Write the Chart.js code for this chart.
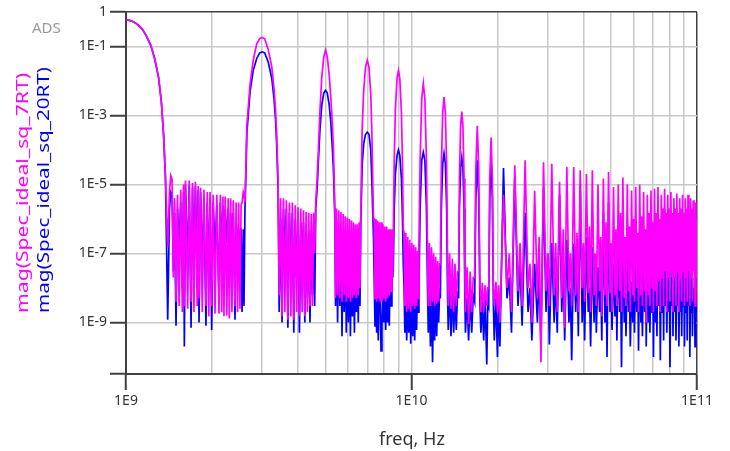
<!DOCTYPE html>
<html>
<head>
<meta charset="utf-8">
<script src="https://cdn.jsdelivr.net/npm/chart.js@4.4.0/dist/chart.umd.min.js"></script>
<style>
  html, body { margin: 0; background: #fff; }
  #wrap { width: 730px; height: 451px; }
</style>
</head>
<body>
<div id="wrap"><canvas id="myChart"></canvas></div>
<script>
// frequency in GHz
const freqGHz = [
  1.00, 1.03, 1.06, 1.10, 1.14, 1.18, 1.22, 1.26, 1.30, 1.33, 1.355, 1.375,
  1.40, 1.42, 1.435, 1.45, 1.465, 1.48, 1.497, 1.515, 1.535, 1.555, 1.575, 1.59, 1.601, 1.615, 1.645, 1.665, 1.69, 1.71, 1.73, 1.75, 1.775, 1.79, 1.802, 1.825, 1.85, 1.875, 1.906, 1.925, 1.95, 1.97, 1.996, 2.02, 2.05, 2.08, 2.117, 2.14, 2.165, 2.185, 2.204, 2.225, 2.255, 2.28, 2.301, 2.325, 2.35, 2.375, 2.409, 2.43, 2.46, 2.48, 2.507, 2.53, 2.55, 2.575, 2.59, 2.61,
  2.63, 2.65, 2.72, 2.79, 2.87, 2.94, 3.00, 3.06, 3.15, 3.24, 3.30, 3.34, 3.37, 3.41,
  3.44, 3.48, 3.52, 3.56, 3.60, 3.645, 3.69, 3.735, 3.78, 3.825, 3.87, 3.915, 3.96, 4.005, 4.05, 4.095, 4.14, 4.185, 4.23, 4.275, 4.32, 4.365, 4.41, 4.455, 4.50, 4.54, 4.58,
  4.62, 4.68, 4.72, 4.78, 4.85, 4.93, 5.00, 5.07, 5.15, 5.22, 5.28, 5.33, 5.39,
  5.42, 5.46, 5.51, 5.56, 5.61, 5.66, 5.71, 5.76, 5.81, 5.86, 5.91, 5.96, 6.01, 6.06, 6.11, 6.16, 6.21, 6.26, 6.31, 6.36, 6.41, 6.46, 6.51, 6.56, 6.60,
  6.64, 6.68, 6.72, 6.80, 6.90, 7.00, 7.10, 7.20, 7.26, 7.31, 7.36,
  7.40, 7.45, 7.50, 7.55, 7.60, 7.65, 7.70, 7.76, 7.82, 7.88, 7.94, 8.00, 8.06, 8.12, 8.18, 8.24, 8.30, 8.36, 8.42, 8.48, 8.54, 8.60,
  8.64, 8.70, 8.78, 8.90, 9.00, 9.10, 9.22, 9.30, 9.36,
  9.42, 9.48, 9.55, 9.62, 9.70, 9.78, 9.86, 9.94, 10.02, 10.10, 10.18, 10.26, 10.34, 10.42, 10.50, 10.58,
  10.62, 10.72, 10.86, 11.0, 11.14, 11.28, 11.38,
  11.45, 11.55, 11.65, 11.75, 11.85, 11.95, 12.05, 12.15, 12.25, 12.35, 12.45, 12.55,
  12.62, 12.72, 12.86, 13.0, 13.14, 13.28, 13.38,
  13.45, 13.6, 13.75, 13.9, 14.05, 14.2, 14.35, 14.5,
  14.62, 14.72, 14.86, 15.0, 15.14, 15.28, 15.38,
  15.45, 15.65, 15.85, 16.05, 16.25, 16.45,
  16.64, 16.80, 17.0, 17.2, 17.36,
  17.5, 17.7, 17.9, 18.1, 18.35, 18.5,
  18.64, 18.80, 19.0, 19.2, 19.36,
  19.5, 19.75, 20.0, 20.2,
  20.4, 21, 21.6, 22,  22.4, 23, 23.6, 24,  24.4, 25, 25.6, 26,  26.4, 27, 27.6, 28,  28.4, 29, 29.6, 30,
  30.4, 31, 31.6, 32,  32.4, 33, 33.6, 34,  34.4, 35, 35.6, 36,  36.4, 37, 37.6, 38,  38.4, 39, 39.6, 40,
  40.4, 41, 41.6, 42,  42.4, 43, 43.6, 44,  44.4, 45, 45.6, 46,  46.4, 47, 47.6, 48,  48.4, 49, 49.6, 50,
  50.4, 51, 51.6, 52,  52.4, 53, 53.6, 54,  54.4, 55, 55.6, 56,  56.4, 57, 57.6, 58,  58.4, 59, 59.6, 60,
  60.4, 61, 61.6, 62,  62.4, 63, 63.6, 64,  64.4, 65, 65.6, 66,  66.4, 67, 67.6, 68,  68.4, 69, 69.6, 70,
  70.4, 71, 71.6, 72,  72.4, 73, 73.6, 74,  74.4, 75, 75.6, 76,  76.4, 77, 77.6, 78,  78.4, 79, 79.6, 80,
  80.4, 81, 81.6, 82,  82.4, 83, 83.6, 84,  84.4, 85, 85.6, 86,  86.4, 87, 87.6, 88,  88.4, 89, 89.6, 90,
  90.4, 91, 91.6, 92,  92.4, 93, 93.6, 94,  94.4, 95, 95.6, 96,  96.4, 97, 97.6, 98,  98.4, 99, 99.6, 100
];

// mag(Spec_ideal_sq_7RT)
const mag7RT = [
  0.59, 0.57, 0.52, 0.43, 0.32, 0.2, 0.11, 0.045, 0.013, 2.5e-3, 2.5e-4, 1.5e-5,
  1.5e-7, 6e-6, 1.8e-5, 1.4e-5, 2e-8, 4e-6, 4e-9, 5e-6, 3e-9, 7e-6, 2e-9, 1e-5, 3e-9, 1.3e-5, 2.5e-9, 1.3e-5, 4e-9, 1.1e-5, 2e-9, 1.2e-5, 3e-9, 9e-6, 5e-9, 8e-6, 2e-9, 7e-6, 3e-9, 6e-6, 1.5e-9, 6e-6, 3e-9, 5e-6, 1.8e-9, 5e-6, 1.8e-9, 5e-6, 2e-9, 4.5e-6, 1.5e-9, 4.5e-6, 1.6e-9, 4e-6, 1.3e-9, 4e-6, 2e-9, 3.5e-6, 3e-9, 3e-6, 2e-9, 3e-6, 2.5e-9, 2.5e-6, 3e-6, 6e-6, 5e-6, 3e-6,
  3e-5, 5e-4, 8e-3, 0.04, 0.12, 0.17, 0.18, 0.17, 0.08, 0.026, 6e-3, 1.5e-3, 3e-4, 1.3e-5,
  6e-9, 4e-6, 1.5e-9, 4e-6, 2e-9, 3.5e-6, 1.2e-9, 3e-6, 1.5e-9, 3e-6, 1.2e-9, 2.5e-6, 2e-9, 2.2e-6, 1.5e-9, 2e-6, 2e-9, 1.8e-6, 1.5e-9, 1.6e-6, 2e-9, 1.5e-6, 3e-9, 1.4e-6, 3e-9, 1.5e-6, 1e-7,
  3e-6, 2e-5, 1e-4, 1.4e-3, 0.013, 0.05, 0.08, 0.05, 0.015, 3e-3, 6e-4, 1e-4, 2e-6,
  5e-9, 2e-6, 6e-9, 1.8e-6, 5e-9, 1.6e-6, 4e-9, 1.4e-6, 6e-9, 1.2e-6, 4e-9, 1.1e-6, 5e-9, 1e-6, 4e-9, 9e-7, 5e-9, 8e-7, 6e-9, 7e-7, 5e-9, 7e-7, 6e-9, 8e-7, 1e-8,
  1e-6, 3e-5, 4.6e-4, 5e-3, 0.025, 0.04, 0.025, 4e-3, 4e-4, 2e-5, 1e-6,
  1e-6, 5e-9, 1e-6, 4e-9, 9e-7, 5e-9, 8e-7, 4e-9, 8e-7, 4e-9, 7e-7, 5e-9, 6e-7, 4e-9, 6e-7, 5e-9, 5e-7, 6e-9, 5e-7, 8e-9, 5e-7, 2e-8,
  5e-7, 5e-5, 1.5e-3, 0.012, 0.02, 0.012, 1.2e-3, 4e-5, 5e-7,
  4e-7, 3e-9, 4e-7, 2e-9, 3e-7, 2.5e-9, 2.5e-7, 2e-9, 2e-7, 3e-9, 1.8e-7, 2.5e-9, 1.5e-7, 3e-9, 1.2e-7, 5e-9,
  2e-7, 5e-5, 3e-3, 8.5e-3, 3e-3, 5e-5, 1e-7,
  3e-9, 2e-7, 3e-9, 1.5e-7, 4e-9, 1e-7, 3e-9, 8e-8, 3.5e-9, 6e-8, 4e-9, 5e-8,
  5e-8, 3e-5, 1.2e-3, 3.4e-3, 1.2e-3, 3e-5, 5e-8,
  3e-9, 1e-7, 2.5e-9, 7e-8, 2e-9, 5e-8, 3e-9, 3e-8,
  3e-8, 1.5e-5, 5e-4, 1.3e-3, 5e-4, 1.5e-5, 3e-8,
  2e-9, 4e-8, 9e-10, 3e-8, 2e-9, 2e-8,
  2e-8, 3e-5, 5e-4, 3e-5, 1.5e-8,
  2e-9, 1.4e-8, 2e-9, 1.2e-8, 3e-9, 1e-8,
  1e-8, 1.5e-5, 2.3e-4, 1.5e-5, 1e-8,
  3e-9, 1.5e-8, 2e-9, 1.2e-8,
  1e-9, 5e-6, 1e-8, 1e-7,  2e-9, 3.6e-5, 8e-9, 2e-7,  3e-9, 5e-5, 1e-8, 5e-8,  1e-9, 6.6e-6, 5e-9, 3e-7,  7e-11, 4.4e-5, 8e-9, 1e-7,
  3e-9, 4e-5, 6e-9, 2e-7,  2e-9, 1.2e-5, 5e-9, 5e-7,  7e-10, 3.2e-5, 8e-9, 1e-7,  3e-9, 3.2e-5, 6e-9, 4e-7,  2e-9, 2.6e-5, 1e-8, 2e-7,
  4e-9, 2e-5, 7e-9, 6e-7,  2e-9, 2.6e-5, 6e-9, 1e-7,  3e-9, 1e-5, 8e-9, 3e-7,  1.5e-9, 1.5e-5, 6e-9, 8e-7,  3e-9, 2.3e-5, 7e-9, 2e-7,
  2e-9, 8.4e-6, 6e-9, 5e-7,  3e-9, 1e-5, 8e-9, 1.5e-6,  2e-9, 1.6e-5, 5e-9, 3e-7,  3e-9, 1e-5, 8e-9, 6e-7,  2e-9, 6.7e-6, 6e-9, 1e-6,
  4e-9, 8.4e-6, 1e-8, 4e-7,  2e-9, 1e-5, 6e-9, 1.2e-6,  3e-9, 6e-6, 8e-9, 5e-7,  1e-9, 5e-6, 6e-9, 1.5e-6,  3e-9, 6.7e-6, 1e-8, 8e-7,
  2e-9, 7.5e-6, 8e-9, 1.5e-6,  3e-9, 8.4e-6, 1.5e-8, 1e-6,  2e-9, 5e-6, 2e-8, 2e-6,  3e-9, 7.5e-6, 3e-8, 1.5e-6,  2e-9, 5e-6, 2e-8, 2e-6,
  4e-9, 6e-6, 3e-8, 1.5e-6,  2e-9, 4e-6, 2e-8, 2e-6,  3e-9, 5.5e-6, 3e-8, 1.5e-6,  2e-9, 4e-6, 2e-8, 2e-6,  4e-9, 5e-6, 3e-8, 1.5e-6,
  3e-9, 4e-6, 2e-8, 2e-6,  4e-9, 5e-6, 3e-8, 1.5e-6,  3e-9, 4e-6, 2e-8, 2e-6,  4e-9, 3.5e-6, 3e-8, 1.5e-6,  3e-9, 3e-6, 2e-8, 1e-6
];

// mag(Spec_ideal_sq_20RT)
const mag20RT = [
  0.59, 0.57, 0.52, 0.43, 0.32, 0.2, 0.11, 0.045, 0.013, 2.5e-3, 2.5e-4, 1.5e-5,
  1.2e-9, 2e-6, 6e-6, 5e-6, 3e-8, 1.5e-6, 8e-10, 2e-6, 2e-7, 3e-6, 1e-8, 6e-6, 2e-10, 1e-5, 5e-8, 1e-5, 7e-10, 8e-6, 3e-8, 9e-6, 5e-8, 7e-6, 1e-9, 6e-6, 4e-8, 4e-6, 8e-10, 3e-6, 2e-8, 4e-6, 6e-10, 3e-6, 1e-7, 2.5e-6, 5e-9, 3e-6, 1e-7, 2.5e-6, 3e-8, 2e-6, 2e-7, 2e-6, 1e-8, 1.5e-6, 3e-7, 1.5e-6, 1.2e-9, 8e-7, 1e-7, 5e-7, 3e-7, 4e-7, 2e-9, 5e-7, 3e-9, 2e-6,
  2e-5, 3e-4, 5e-3, 0.02, 0.045, 0.065, 0.07, 0.065, 0.035, 0.012, 3e-3, 8e-4, 1.5e-4, 8e-6,
  2e-9, 1e-6, 1e-9, 2e-6, 1e-7, 2e-6, 7e-10, 1.5e-6, 3e-8, 1.5e-6, 5e-10, 1e-6, 2e-8, 1e-6, 5e-10, 8e-7, 1e-7, 8e-7, 1e-9, 6e-7, 5e-9, 5e-7, 1e-9, 4e-7, 6e-9, 6e-7, 3e-9,
  2e-6, 1e-5, 5e-5, 4e-4, 2e-3, 4.5e-3, 5.4e-3, 4.5e-3, 2e-3, 6e-4, 1.2e-4, 2.5e-5, 1e-6,
  3e-9, 1e-6, 1e-9, 4e-7, 3e-9, 3e-7, 4e-10, 2e-7, 2e-9, 3e-7, 5e-10, 2e-7, 1e-9, 1.5e-7, 4e-10, 1e-7, 1.5e-9, 1.5e-7, 5e-10, 1e-7, 2e-9, 2e-7, 1e-9, 3e-7, 3e-9,
  5e-7, 5e-6, 4e-5, 1.5e-4, 2.8e-4, 3.3e-4, 2.8e-4, 1e-4, 1.5e-5, 2e-6, 3e-7,
  2e-8, 8e-10, 3e-8, 5e-10, 2e-8, 3e-10, 1.5e-8, 8e-9, 1.5e-10, 8e-10, 1e-8, 1e-9, 1e-8, 6e-10, 1e-8, 1e-9, 2e-8, 8e-10, 3e-8, 3e-9, 5e-8, 2e-8,
  5e-8, 2e-6, 2e-5, 7e-5, 1e-4, 7e-5, 1.5e-5, 1e-6, 5e-8,
  1e-8, 5e-10, 1.5e-8, 3e-10, 1e-8, 5e-10, 1e-8, 2.4e-10, 1e-8, 4e-10, 8e-9, 3e-10, 1e-8, 6e-10, 2e-8, 2e-9,
  1e-8, 2e-6, 5e-5, 8.5e-5, 5e-5, 2e-6, 1e-8,
  5e-10, 1e-8, 2e-10, 8e-9, 7e-11, 6e-9, 3e-10, 5e-9, 4e-10, 6e-9, 1e-9, 1e-8,
  5e-9, 2e-6, 4e-5, 8e-5, 4e-5, 2e-6, 5e-9,
  6e-10, 1e-8, 4e-10, 8e-9, 5e-10, 6e-9, 6e-10, 8e-9,
  5e-9, 2e-6, 3e-5, 6e-5, 3e-5, 2e-6, 5e-9,
  5e-10, 5e-9, 3e-10, 6e-9, 5e-10, 6e-9,
  4e-9, 4e-6, 5e-5, 4e-6, 4e-9,
  5e-10, 4e-9, 3e-10, 5e-9, 6e-11, 4e-9,
  3e-9, 4e-6, 4.4e-5, 4e-6, 3e-9,
  3e-10, 5e-9, 1e-10, 5e-9,
  2e-10, 3e-5, 5e-9, 2e-8,  5e-10, 1.6e-5, 3e-9, 5e-8,  8e-10, 1.5e-6, 2e-9, 1e-8,  3e-10, 5e-8, 1e-9, 3e-8,  2e-10, 8e-6, 2e-9, 1e-7,
  2.3e-10, 2e-7, 1e-9, 2e-8,  5e-10, 5e-6, 2e-9, 5e-8,  3e-10, 2.5e-7, 1e-9, 1e-8,  8e-11, 1.9e-7, 2e-9, 8e-8,  4e-10, 1e-5, 1e-9, 3e-8,
  3e-10, 3e-7, 2e-9, 1e-8,  2e-10, 1.5e-7, 1e-9, 6e-8,  5e-10, 4e-8, 2e-9, 2e-8,  3e-10, 1.5e-6, 1e-9, 1e-7,  1e-10, 3e-6, 2e-9, 1e-8,
  6e-10, 5e-8, 1.5e-9, 3e-7,  3e-10, 2e-7, 2e-9, 2e-8,  5e-11, 7e-7, 1e-9, 5e-8,  4e-10, 8e-8, 2e-9, 1e-8,  2e-10, 1.5e-8, 1e-9, 2e-7,
  5e-10, 5e-8, 2e-9, 3e-8,  1.5e-10, 3e-7, 1e-9, 1e-8,  4e-10, 1.5e-7, 2e-9, 4e-7,  2e-10, 2e-7, 1e-9, 2e-8,  5e-10, 1.5e-7, 2e-9, 5e-8,
  1e-10, 6e-7, 1e-9, 1e-8,  4e-10, 1.5e-6, 3e-9, 3e-8,  8e-11, 2e-7, 2e-9, 2e-7,  3e-10, 2e-6, 3e-9, 1e-8,  5e-10, 6e-8, 2e-9, 5e-8,
  5e-11, 2e-8, 3e-9, 1e-7,  4e-10, 1.5e-7, 2e-9, 2e-8,  3e-10, 1.5e-8, 3e-9, 3e-7,  2e-10, 3e-8, 2e-9, 1e-8,  4e-10, 6e-8, 3e-9, 5e-8,
  2e-10, 2e-7, 2e-9, 2e-8,  3e-10, 3e-7, 3e-9, 1e-7,  1e-10, 2e-8, 2e-9, 3e-8,  4e-10, 1e-8, 3e-9, 2e-8,  2e-10, 7e-9, 2e-9, 3e-9
];

const xGrid = [1e9, 2e9, 3e9, 4e9, 5e9, 6e9, 7e9, 8e9, 9e9,
               1e10, 2e10, 3e10, 4e10, 5e10, 6e10, 7e10, 8e10, 9e10, 1e11];
const xLabels = { 1e9: "1E9", 1e10: "1E10", 1e11: "1E11" };
const yMin = 3.2e-11;
const yGrid = [yMin, 1e-9, 1e-7, 1e-5, 1e-3, 1e-1, 1];
const yLabels = { 1: "1", 0.1: "1E-1", 0.001: "1E-3", 1e-5: "1E-5", 1e-7: "1E-7", 1e-9: "1E-9" };

const frameColor = "#404040";
const gridColor = "#c8c8c8";

const toPoints = (vals) => freqGHz.map((f, i) => ({ x: f * 1e9, y: vals[i] }));

const annotate = {
    id: "annotate",
    afterDraw(chart) {
        const c = chart.ctx;
        c.save();
        c.fillStyle = "#9a9a9a";
        c.font = '15px "Noto Sans"';
        c.textAlign = "left";
        c.textBaseline = "alphabetic";
        c.fillText("ADS", 32, 33);

        const rotated = (text, color, x, y, len) => {
            c.save();
            c.font = '16px "Noto Sans"';
            c.fillStyle = color;
            c.translate(x, y);
            c.rotate(-Math.PI / 2);
            c.scale(len / c.measureText(text).width, 1);
            c.fillText(text, 0, 0);
            c.restore();
        };
        rotated("mag(Spec_ideal_sq_7RT)", "#ff00ff", 28, 313, 240);
        rotated("mag(Spec_ideal_sq_20RT)", "#0000ff", 49, 313, 246);

        c.fillStyle = "#333";
        c.font = '18px "Noto Sans"';
        c.textAlign = "center";
        c.fillText("freq, Hz", 412, 445);
        c.restore();
    }
};

const ctx = document.getElementById("myChart");

new Chart(ctx, {
    type: "scatter",
    data: {
        datasets: [{
            label: "mag(Spec_ideal_sq_7RT)",
            data: toPoints(mag7RT),
            showLine: true,
            borderColor: "#ff00ff",
            borderWidth: 1.7,
            pointRadius: 0,
            tension: 0,
        }, {
            label: "mag(Spec_ideal_sq_20RT)",
            data: toPoints(mag20RT),
            showLine: true,
            borderColor: "#0000ff",
            borderWidth: 1.7,
            pointRadius: 0,
            tension: 0,
        }, ],
    },
    options: {
        responsive: true,
        maintainAspectRatio: false,
        animation: false,
        layout: { padding: { left: 0, top: 12, right: 33, bottom: 0 } },
        plugins: { legend: { display: false }, tooltip: { enabled: false } },
        scales: {
            x: {
                type: "logarithmic",
                min: 1e9,
                max: 1e11,
                afterBuildTicks: (s) => { s.ticks = xGrid.map((v) => ({ value: v })); },
                afterFit: (s) => { s.height = 77; },
                ticks: {
                    autoSkip: false,
                    maxRotation: 0,
                    padding: 3,
                    color: "#333",
                    font: { family: "Noto Sans", size: 14 },
                    callback: (v) => xLabels[v] || "",
                },
                grid: {
                    lineWidth: 1.5,
                    tickLength: 16,
                    tickWidth: 2,
                    color: (c) => c.tick.value === 1e9 ? "rgba(0,0,0,0)" : (c.tick.value === 1e11 ? frameColor : gridColor),
                    tickColor: (c) => xLabels[c.tick.value] ? frameColor : "rgba(0,0,0,0)",
                },
                border: { color: frameColor, width: 2 },
            },
            y: {
                type: "logarithmic",
                min: yMin,
                max: 1,
                afterBuildTicks: (s) => { s.ticks = yGrid.map((v) => ({ value: v })); },
                afterFit: (s) => { s.width = 126; },
                ticks: {
                    autoSkip: false,
                    padding: 3,
                    color: "#333",
                    font: { family: "Noto Sans", size: 14 },
                    callback: (v) => yLabels[v] || "",
                },
                grid: {
                    lineWidth: 1.5,
                    tickLength: 16,
                    tickWidth: 2,
                    color: (c) => c.tick.value === yMin ? "rgba(0,0,0,0)" : (c.tick.value === 1 ? frameColor : gridColor),
                    tickColor: frameColor,
                },
                border: { color: frameColor, width: 2 },
            },
        },
    },
    plugins: [annotate],
});
</script>
</body>
</html>
